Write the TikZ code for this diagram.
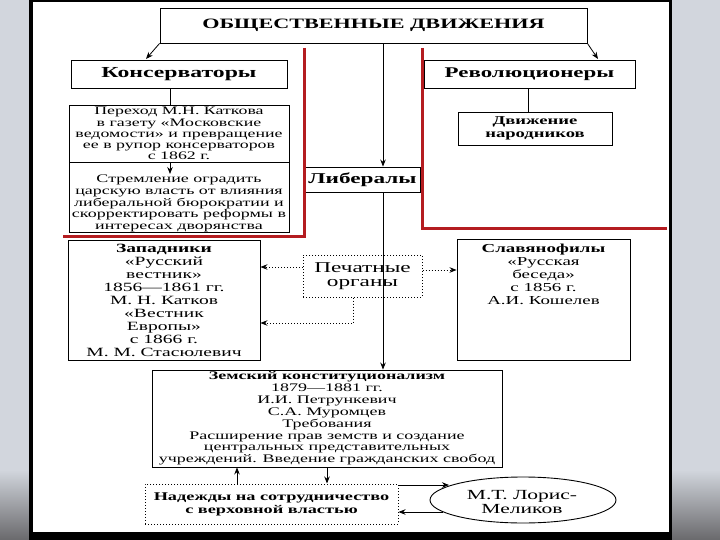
\documentclass[tikz,border=0pt]{standalone}
\usepackage{fontspec}
\setmainfont{Liberation Serif}[FakeStretch=1.55]
\usetikzlibrary{arrows.meta,shapes.geometric}
\definecolor{redline}{RGB}{180,28,32}
\definecolor{slidebg}{RGB}{210,214,221}
\definecolor{slidedark}{RGB}{105,105,108}
\begin{document}
\begin{tikzpicture}[x=1pt,y=-1pt,
  box/.style={draw,line width=0.9pt,inner sep=0pt,align=center,anchor=center},
  dbox/.style={draw,dotted,line width=1pt,inner sep=0pt,align=center,anchor=center},
  arr/.style={line width=0.8pt,-{Stealth[length=7pt,width=5.5pt]}},
  darr/.style={line width=1pt,dotted,-{Stealth[length=7pt,width=5.5pt]}},
  plain/.style={line width=0.8pt},
  redl/.style={line width=3pt,redline},
  txt/.style={inner sep=0pt,align=center,anchor=center}]
\useasboundingbox (0,0) rectangle (720,540);
% slide background and page frame
\fill[slidebg] (0,0) rectangle (30,540);
\fill[slidebg] (671,0) rectangle (720,540);
\shade[top color=slidebg,bottom color=slidedark] (0,470) rectangle (30,540);
\shade[top color=slidebg,bottom color=slidedark] (671,470) rectangle (720,540);
\fill[white] (33,2.5) rectangle (669,532);
\fill[black] (29,0) rectangle (33,540);
\fill[black] (669,0) rectangle (672,540);
\fill[black] (29,0) rectangle (672,2.5);
\fill[black] (29,532) rectangle (672,540);

% helper coordinates
\coordinate (c170) at (170,0);
\coordinate (c383) at (383,0);
\coordinate (c528) at (528,0);
\coordinate (c353) at (353,0);
\coordinate (c237) at (237,0);
\coordinate (c327) at (327,0);
\coordinate (y267) at (0,267);
\coordinate (y270) at (0,270);
\coordinate (y323) at (0,323);
\coordinate (y485) at (0,485);
\coordinate (y512) at (0,512);
\coordinate (konstip) at (146,59);
\coordinate (revtip) at (598,59);
\coordinate (stremtip) at (170,174);
\coordinate (lmin) at (449,485);
\coordinate (lmout) at (443,512);

% nodes
\node[box,minimum width=427pt,minimum height=35pt,
  font=\fontsize{14.3}{16}\selectfont\bfseries] (title) at (373.5,25.5)
  {\raisebox{-3pt}{ОБЩЕСТВЕННЫЕ ДВИЖЕНИЯ}};
\node[box,minimum width=216pt,minimum height=28pt,
  font=\fontsize{15.3}{17}\selectfont\bfseries] (kons) at (179,74) {Консерваторы};
\node[box,minimum width=211pt,minimum height=28pt,
  font=\fontsize{14.8}{17}\selectfont\bfseries] (rev) at (529.5,74) {Революционеры};
\node[box,minimum width=220pt,minimum height=57pt,
  font=\fontsize{11.5}{11.1}\selectfont] (per) at (179,133.5)
  {Переход М.Н. Каткова\\в газету «Московские\\ведомости» и превращение\\ее в рупор консерваторов\\с 1862 г.};
\node[box,minimum width=220pt,minimum height=70pt] (strem) at (179,197) {};
\node[txt,font=\fontsize{11.6}{11.7}\selectfont] (stremtext) at (179,203.5)
  {Стремление оградить\\царскую власть от влияния\\либеральной бюрократии и\\скорректировать реформы в\\интересах дворянства};
\node[box,minimum width=115pt,minimum height=25pt,
  font=\fontsize{15}{17}\selectfont\bfseries] (lib) at (362.5,179.5) {Либералы};
\node[box,minimum width=154pt,minimum height=33pt,
  font=\fontsize{12}{12.5}\selectfont\bfseries] (dvizh) at (535,128.5) {Движение\\народников};
\node[box,minimum width=192pt,minimum height=120pt,
  font=\fontsize{12.6}{12.9}\selectfont] (zap) at (164,300.5)
  {\textbf{Западники}\\«Русский\\вестник»\\1856—1861 гг.\\М. Н. Катков\\«Вестник\\Европы»\\с 1866 г.\\М. М. Стасюлевич};
\node[dbox,minimum width=119pt,minimum height=42pt,
  font=\fontsize{15}{14}\selectfont] (pech) at (362.5,276) {Печатные\\органы};
\node[box,minimum width=173pt,minimum height=121pt] (slav) at (543.5,299.5) {};
\node[txt,font=\fontsize{12.2}{13}\selectfont] (slavtext) at (543.5,274)
  {\textbf{Славянофилы}\\«Русская\\беседа»\\с 1856 г.\\А.И. Кошелев};
\node[box,minimum width=350pt,minimum height=97pt,
  font=\fontsize{11.6}{11.9}\selectfont] (zem) at (327,418.5)
  {\textbf{Земский конституционализм}\\1879—1881 гг.\\И.И. Петрункевич\\С.А. Муромцев\\Требования\\Расширение прав земств и создание\\центральных представительных\\учреждений. Введение гражданских свобод};
\node[dbox,minimum width=253pt,minimum height=40pt,
  font=\fontsize{11.8}{13}\selectfont\bfseries] (nad) at (271.5,504)
  {Надежды на сотрудничество\\с верховной властью};
\node[draw,ellipse,line width=0.9pt,minimum width=186pt,minimum height=46pt,inner sep=0pt] (lm) at (523,500) {};
\node[txt,font=\fontsize{13.9}{14.5}\selectfont] (lmtext) at (522,502)
  {М.Т. Лорис-\\Меликов};

% connectors
\draw[arr] (title.south west) -- (konstip);
\draw[arr] (title.south east) -- (revtip);
\draw[arr] (title.south -| c383) -- (lib.north -| c383);
\draw[plain] (kons.south -| c170) -- (per.north -| c170);
\draw[arr] (per.south -| c170) -- (stremtip);
\draw[plain] (rev.south -| c528) -- (dvizh.north -| c528);
\draw[arr] (lib.south -| c383) -- (zem.north -| c383);
\draw[darr] (pech.west |- y267) -- (zap.east |- y267);
\draw[darr] (pech.south -| c353) |- (zap.east |- y323);
\draw[darr] (pech.east |- y270) -- (slav.west |- y270);
\draw[arr] (nad.north -| c237) -- (zem.south -| c237);
\draw[arr] (zem.south -| c327) -- (nad.north -| c327);
\draw[arr] (nad.east |- y485) -- (lmin);
\draw[arr] (lmout) -- (nad.east |- y512);

% red separators
\draw[redl] (304,48) -- (304,236) -- (63,236);
\draw[redl] (422,48) -- (422,229) -- (667,229);
\end{tikzpicture}
\end{document}
